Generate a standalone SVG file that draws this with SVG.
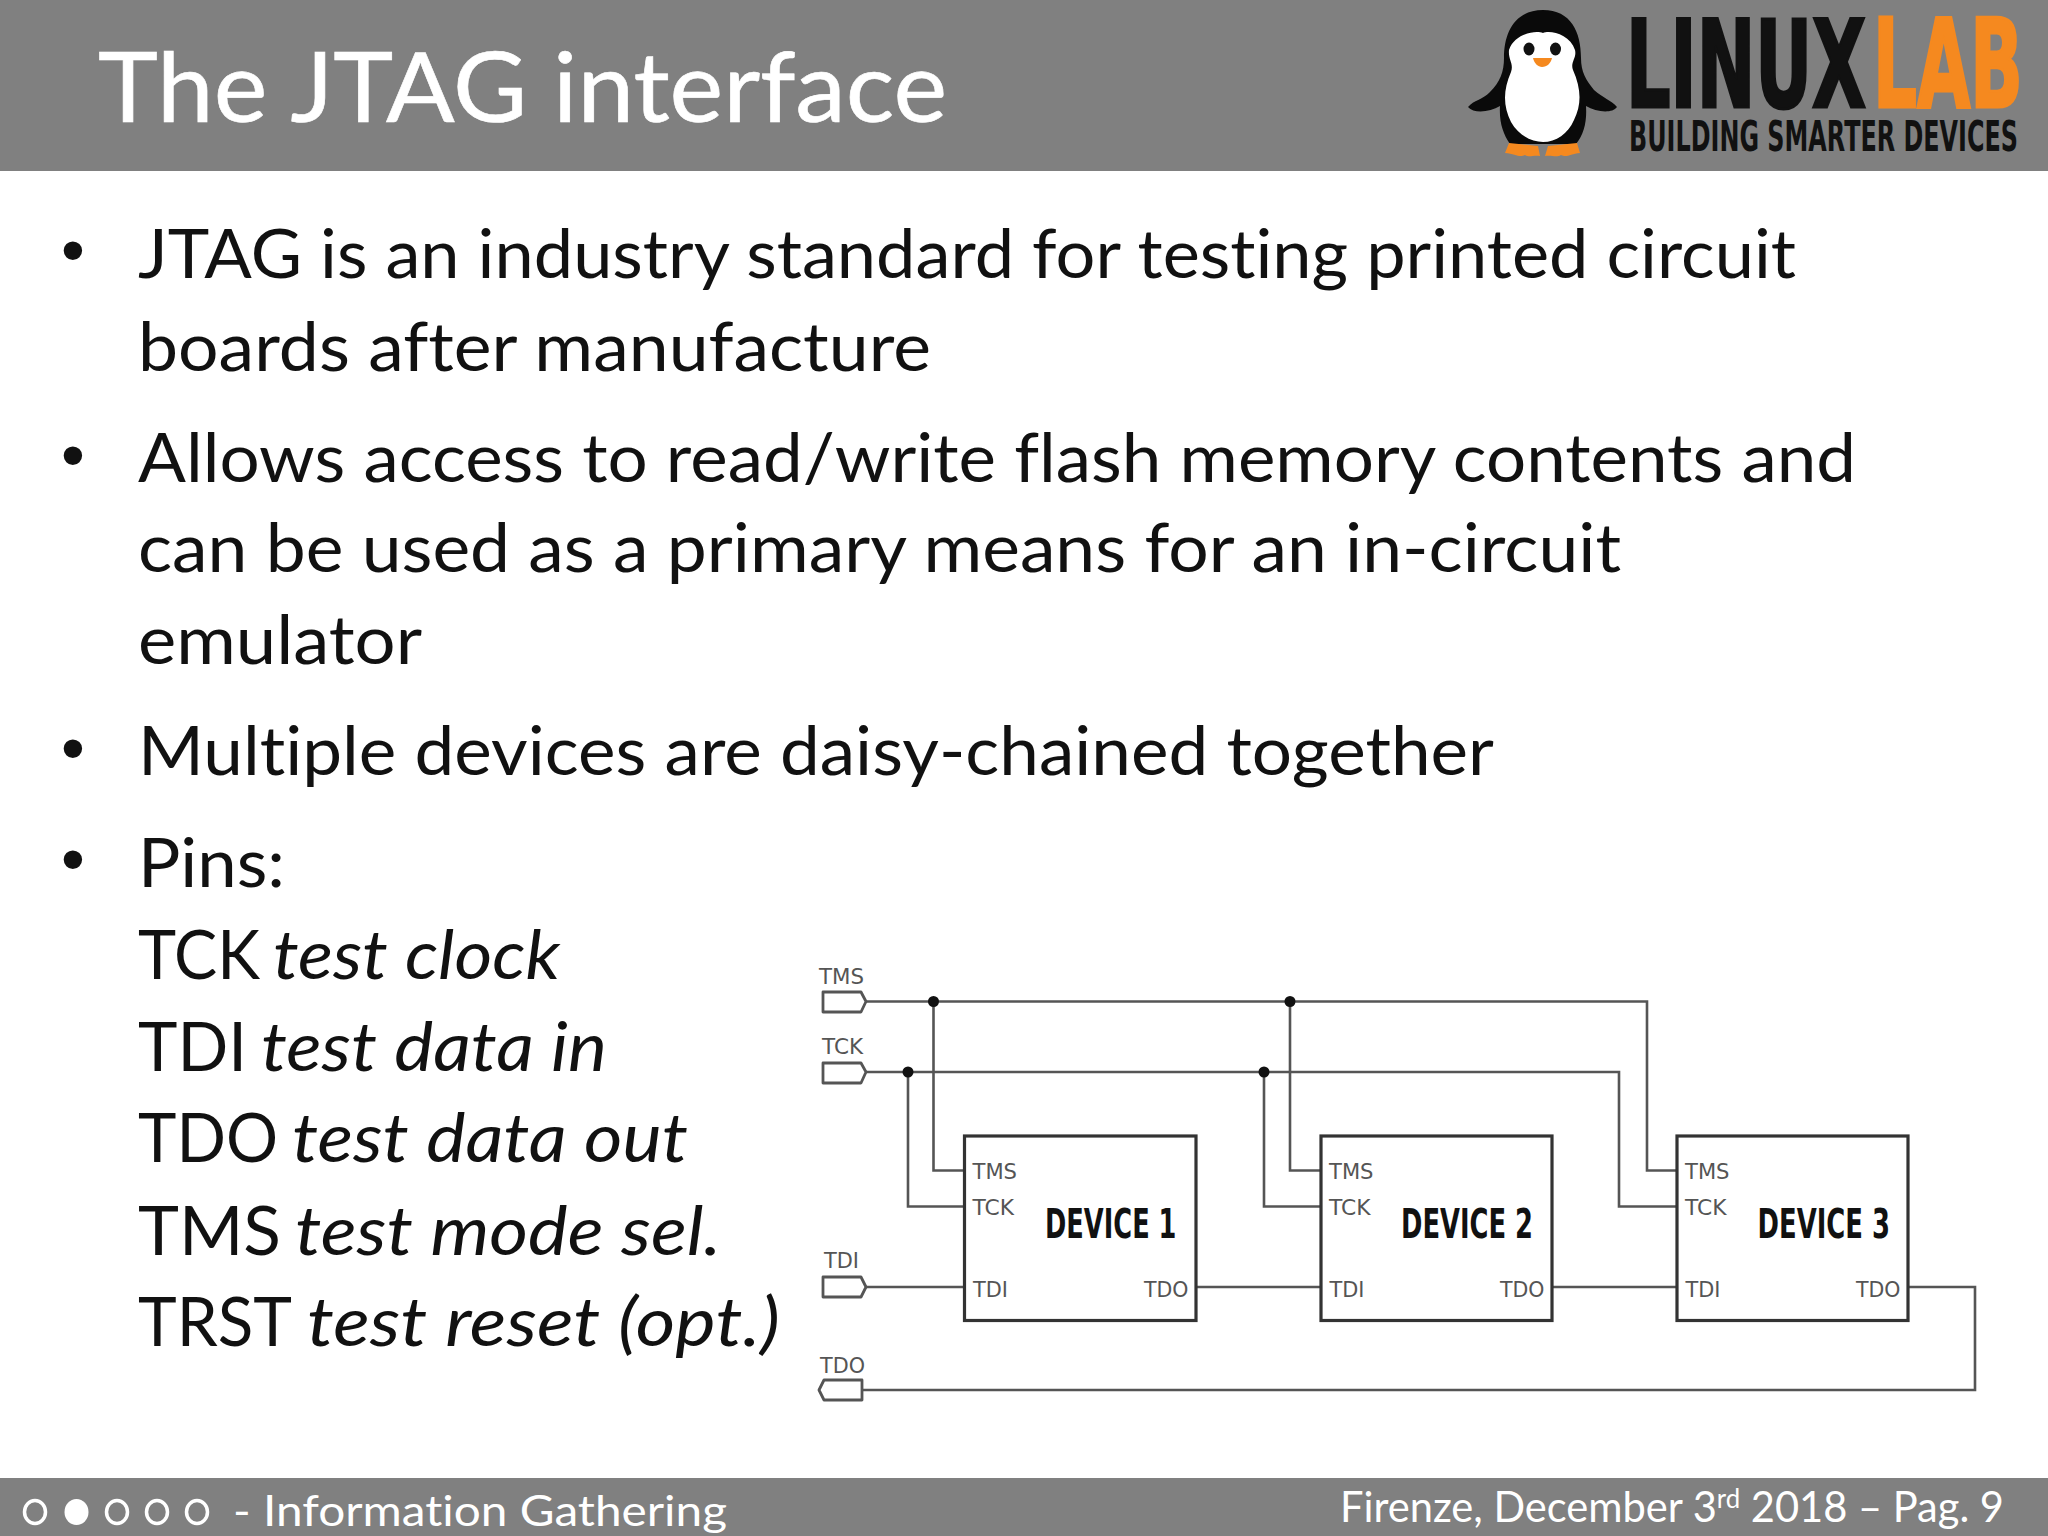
<svg xmlns="http://www.w3.org/2000/svg" width="2048" height="1536" viewBox="0 0 2048 1536">
<style>
text{font-variant-ligatures:none}
.bar{fill:#808080}
.title{font-family:Lato,"Open Sans",sans-serif;font-size:96px;fill:#fff;stroke:#fff;stroke-width:.6}
.body{font-family:Lato,"Open Sans",sans-serif;font-size:68px;fill:#111}
.bullet{font-family:"Liberation Sans",sans-serif;font-size:68px;fill:#111}
.foot{font-family:Lato,"Open Sans",sans-serif;font-size:42px;fill:#fff}
.sup{font-size:26px}
.it{font-style:italic}
.pin{font-family:"DejaVu Sans",sans-serif;font-size:21px;fill:#555}
.dev{font-family:"DejaVu Sans",sans-serif;font-weight:bold;font-size:41px;fill:#111}
.wire{fill:none;stroke:#555;stroke-width:2.6}
.box{fill:#fff;stroke:#333;stroke-width:3.2}
.port{fill:#fff;stroke:#555;stroke-width:2.8;stroke-linejoin:round}
.dot{fill:#111}
.logo{font-family:"DejaVu Sans",sans-serif;font-weight:bold;fill:#111}
.ring{fill:none;stroke:#fff;stroke-width:3.5}
</style>
<rect width="2048" height="1536" fill="#fff"/>
<g id="header">
<rect class="bar" width="2048" height="171"/>
<text class="title" x="98" y="122" textLength="849" lengthAdjust="spacingAndGlyphs">The JTAG interface</text>
</g>
<g id="logo">
<path d="M1543 10C1515 10 1504 32 1504 58C1504 72 1500 82 1490 92C1482 100 1474 100 1468 107C1474 114 1490 112 1500 106C1499 122 1503 134 1510 144L1576 144C1584 134 1587 122 1586 106C1596 112 1612 114 1617 107C1611 100 1603 98 1594 90C1586 80 1581 72 1581 58C1581 32 1571 10 1543 10Z" fill="#0a0a0a"/>
<path d="M1543 33C1535 30 1514 34 1509 50C1508 60 1514 63 1511 72C1503 90 1503 106 1511 122C1519 136 1532 142 1543 142C1556 142 1568 134 1574 120C1582 104 1581 88 1573 70C1570 62 1577 58 1575 50C1570 34 1550 30 1543 33Z" fill="#fff"/>
<ellipse cx="1529" cy="49" rx="5.500" ry="6.500" fill="#111"/>
<ellipse cx="1555.500" cy="49" rx="5.500" ry="6.500" fill="#111"/>
<path d="M1533 58L1552 58C1551 63 1547 67 1542 67C1538 67 1534 63 1533 58Z" fill="#f5891f"/>
<path d="M1509 143L1538 146L1540 156C1532 155 1530 158 1525 155C1519 158 1516 154 1505 153Z" fill="#f5891f"/>
<path d="M1577 143L1548 146L1545 156C1553 155 1556 158 1561 155C1567 158 1570 154 1580 153Z" fill="#f5891f"/>
<text class="logo" transform="translate(1626 107) scale(1 1.743)" font-size="70" stroke="#111" stroke-width="1.800">LINUX</text>
<text class="logo" transform="translate(1873 107) scale(1 1.77)" font-size="69" style="fill:#f5891f" stroke="#f5891f" stroke-width="1.800">LAB</text>
<text class="logo" transform="translate(1629 151) scale(1 1.8)" font-size="23.900">BUILDING SMARTER DEVICES</text>
</g>
<g id="bullets">
<text class="bullet" x="61" y="273">•</text>
<text class="bullet" x="61" y="478">•</text>
<text class="bullet" x="61" y="771">•</text>
<text class="bullet" x="61" y="882">•</text>
<text class="body" x="138" y="278" textLength="1658" lengthAdjust="spacingAndGlyphs">JTAG is an industry standard for testing printed circuit</text>
<text class="body" x="138" y="371" textLength="793" lengthAdjust="spacingAndGlyphs">boards after manufacture</text>
<text class="body" x="138" y="482" textLength="1718" lengthAdjust="spacingAndGlyphs">Allows access to read/write flash memory contents and</text>
<text class="body" x="138" y="572" textLength="1483" lengthAdjust="spacingAndGlyphs">can be used as a primary means for an in-circuit</text>
<text class="body" x="138" y="664" textLength="284" lengthAdjust="spacingAndGlyphs">emulator</text>
<text class="body" x="138" y="775" textLength="1356" lengthAdjust="spacingAndGlyphs">Multiple devices are daisy-chained together</text>
<text class="body" x="138" y="887" textLength="147" lengthAdjust="spacingAndGlyphs">Pins:</text>
<text class="body" x="138" y="979" textLength="122" lengthAdjust="spacingAndGlyphs">TCK</text>
<text class="body it" x="273" y="979" textLength="287" lengthAdjust="spacingAndGlyphs">test clock</text>
<text class="body" x="138" y="1071" textLength="109" lengthAdjust="spacingAndGlyphs">TDI</text>
<text class="body it" x="261" y="1071" textLength="346" lengthAdjust="spacingAndGlyphs">test data in</text>
<text class="body" x="138" y="1162" textLength="140" lengthAdjust="spacingAndGlyphs">TDO</text>
<text class="body it" x="292" y="1162" textLength="396" lengthAdjust="spacingAndGlyphs">test data out</text>
<text class="body" x="138" y="1255" textLength="143" lengthAdjust="spacingAndGlyphs">TMS</text>
<text class="body it" x="295" y="1255" textLength="426" lengthAdjust="spacingAndGlyphs">test mode sel.</text>
<text class="body" x="138" y="1346" textLength="154" lengthAdjust="spacingAndGlyphs">TRST</text>
<text class="body it" x="307" y="1346" textLength="473" lengthAdjust="spacingAndGlyphs">test reset (opt.)</text>
</g>
<g id="connectors">
<path class="wire" d="M866 1001.500H1647V1170.500H1677"/>
<path class="wire" d="M866 1072H1619V1206.500H1677"/>
<path class="wire" d="M933.500 1001.500V1170.500H964.500"/>
<path class="wire" d="M908 1072V1206.500H964.500"/>
<path class="wire" d="M1290 1001.500V1170.500H1321"/>
<path class="wire" d="M1264 1072V1206.500H1321"/>
<path class="wire" d="M866 1287H964.500"/>
<path class="wire" d="M1196 1287H1321"/>
<path class="wire" d="M1552 1287H1677"/>
<path class="wire" d="M1908 1287H1975V1390H862"/>
<circle class="dot" cx="933.500" cy="1001.500" r="5.500"/>
<circle class="dot" cx="1290" cy="1001.500" r="5.500"/>
<circle class="dot" cx="908" cy="1072" r="5.500"/>
<circle class="dot" cx="1264" cy="1072" r="5.500"/>
</g>
<g id="port-tms">
<path class="port" d="M823 992H861L866 1001.500L861 1012H823Z"/>
<text class="pin" x="819" y="984" textLength="45" lengthAdjust="spacingAndGlyphs">TMS</text>
</g>
<g id="port-tck">
<path class="port" d="M823 1063H861L866 1072L861 1083H823Z"/>
<text class="pin" x="822" y="1054" textLength="41" lengthAdjust="spacingAndGlyphs">TCK</text>
</g>
<g id="port-tdi">
<path class="port" d="M823 1277H861L866 1287L861 1297H823Z"/>
<text class="pin" x="824" y="1268" textLength="35" lengthAdjust="spacingAndGlyphs">TDI</text>
</g>
<g id="port-tdo">
<path class="port" d="M862 1380H824L819 1390L824 1400H862Z"/>
<text class="pin" x="820" y="1373" textLength="45" lengthAdjust="spacingAndGlyphs">TDO</text>
</g>
<g id="device-1">
<rect class="box" x="964.500" y="1136" width="231.500" height="184.500"/>
<text class="pin" x="972.500" y="1179" textLength="44.500" lengthAdjust="spacingAndGlyphs">TMS</text>
<text class="pin" x="972.500" y="1215" textLength="41.500" lengthAdjust="spacingAndGlyphs">TCK</text>
<text class="pin" x="973" y="1297" textLength="35" lengthAdjust="spacingAndGlyphs">TDI</text>
<text class="pin" x="1144" y="1297" textLength="44.500" lengthAdjust="spacingAndGlyphs">TDO</text>
<text class="dev" x="1045" y="1238" textLength="131.500" lengthAdjust="spacingAndGlyphs">DEVICE 1</text>
</g>
<g id="device-2">
<rect class="box" x="1321" y="1136" width="231" height="184.500"/>
<text class="pin" x="1329" y="1179" textLength="44.500" lengthAdjust="spacingAndGlyphs">TMS</text>
<text class="pin" x="1329" y="1215" textLength="41.500" lengthAdjust="spacingAndGlyphs">TCK</text>
<text class="pin" x="1329.500" y="1297" textLength="35" lengthAdjust="spacingAndGlyphs">TDI</text>
<text class="pin" x="1500" y="1297" textLength="44.500" lengthAdjust="spacingAndGlyphs">TDO</text>
<text class="dev" x="1401" y="1238" textLength="132" lengthAdjust="spacingAndGlyphs">DEVICE 2</text>
</g>
<g id="device-3">
<rect class="box" x="1677" y="1136" width="231" height="184.500"/>
<text class="pin" x="1685" y="1179" textLength="44.500" lengthAdjust="spacingAndGlyphs">TMS</text>
<text class="pin" x="1685" y="1215" textLength="41.500" lengthAdjust="spacingAndGlyphs">TCK</text>
<text class="pin" x="1685.500" y="1297" textLength="35" lengthAdjust="spacingAndGlyphs">TDI</text>
<text class="pin" x="1856" y="1297" textLength="44.500" lengthAdjust="spacingAndGlyphs">TDO</text>
<text class="dev" x="1757.500" y="1238" textLength="132.500" lengthAdjust="spacingAndGlyphs">DEVICE 3</text>
</g>
<g id="footer">
<rect class="bar" y="1478" width="2048" height="58"/>
<ellipse class="ring" cx="35" cy="1512" rx="10.500" ry="11.500"/>
<ellipse cx="76.500" cy="1512" rx="12" ry="13" fill="#fff"/>
<ellipse class="ring" cx="117" cy="1512" rx="10.500" ry="11.500"/>
<ellipse class="ring" cx="157" cy="1512" rx="10.500" ry="11.500"/>
<ellipse class="ring" cx="197" cy="1512" rx="10.500" ry="11.500"/>
<text class="foot" x="233" y="1526" textLength="494" lengthAdjust="spacingAndGlyphs">- Information Gathering</text>
<text class="foot" x="1340" y="1522" textLength="664" lengthAdjust="spacingAndGlyphs">Firenze, December 3<tspan class="sup" dy="-14">rd</tspan><tspan dy="14"> 2018 – Pag. 9</tspan></text>
</g>
</svg>
